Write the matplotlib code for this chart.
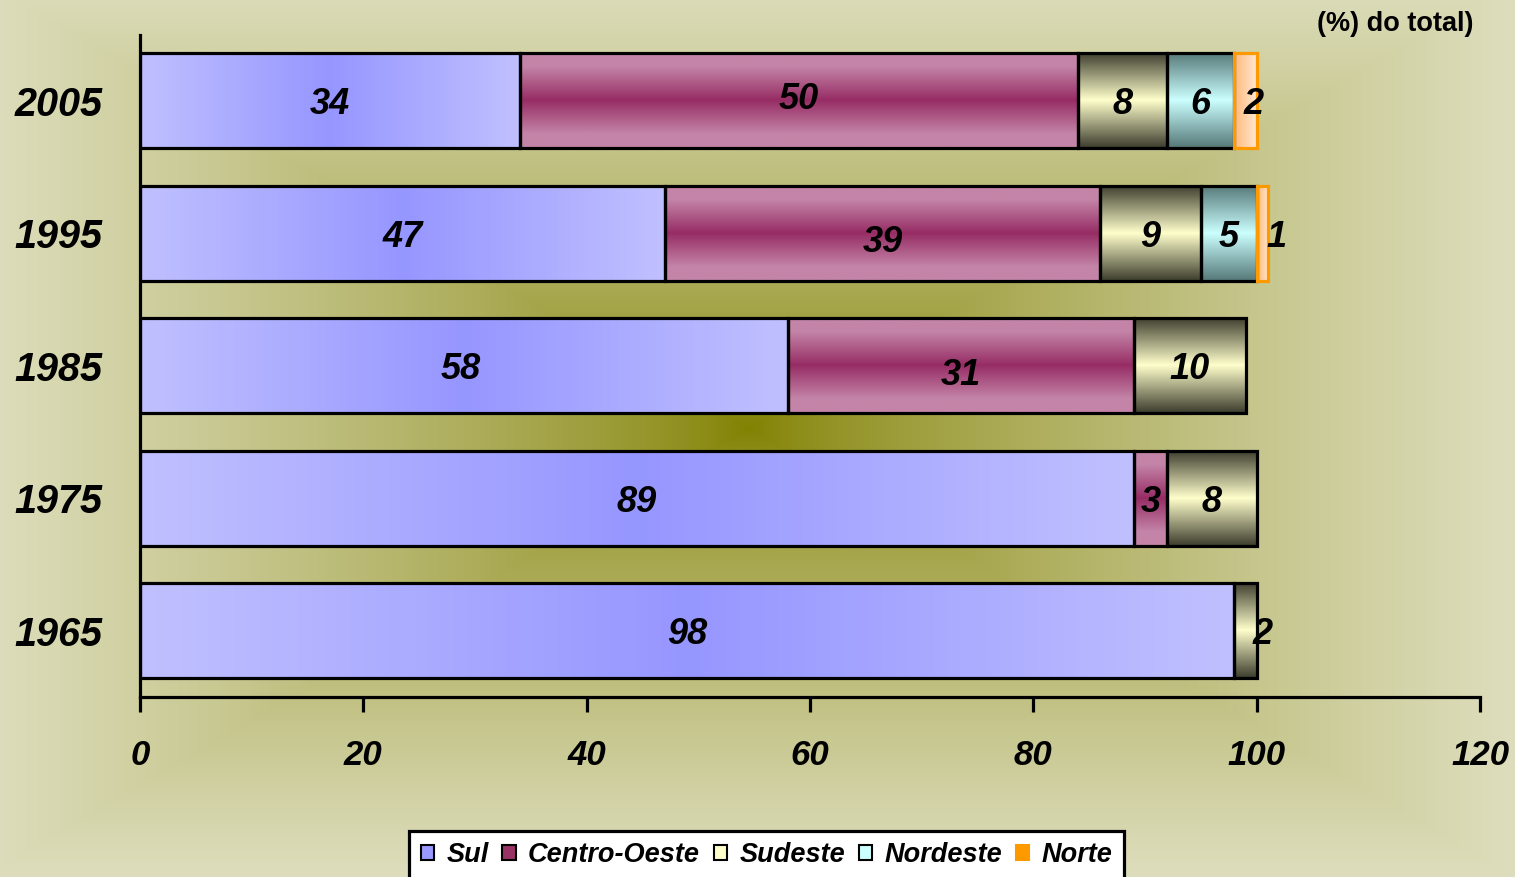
import matplotlib
matplotlib.use("Agg")
import matplotlib.pyplot as plt
from matplotlib.patches import Patch
import numpy as np

# data
years = ['1965', '1975', '1985', '1995', '2005']
sul = [98, 89, 58, 47, 34]
centro_oeste = [0, 3, 31, 39, 50]
sudeste = [2, 8, 10, 9, 8]
nordeste = [0, 0, 0, 5, 6]
norte = [0, 0, 0, 1, 2]

series_names = ['Sul', 'Centro-Oeste', 'Sudeste', 'Nordeste', 'Norte']
series_values = [sul, centro_oeste, sudeste, nordeste, norte]

# gradient styles: (direction, edge colour, centre colour, plateau)
grad_style = {
    'Sul': ('h', (192, 192, 255), (150, 150, 255), 1.0),
    'Centro-Oeste': ('v', (196, 132, 168), (150, 45, 100), 0.7),
    'Sudeste': ('v', (60, 60, 45), (255, 255, 204), 1.0),
    'Nordeste': ('v', (85, 120, 120), (204, 255, 255), 1.0),
    'Norte': ('h2', (255, 185, 120), (255, 232, 212), 1.0),
}
edge_col = {'Sul': 'black', 'Centro-Oeste': 'black', 'Sudeste': 'black',
            'Nordeste': 'black', 'Norte': '#FF9900'}
legend_col = {'Sul': '#9999FF', 'Centro-Oeste': '#993366', 'Sudeste': '#FFFFCC',
              'Nordeste': '#CCFFFF', 'Norte': '#FF9900'}
# small label nudges in points (dx, dy)
nudge = {('Centro-Oeste', '2005'): (0, 4), ('Centro-Oeste', '1995'): (0, -4),
         ('Centro-Oeste', '1985'): (0, -4), ('Norte', '2005'): (6, 0),
         ('Norte', '1995'): (10, 0), ('Sudeste', '1965'): (12, 0),
         ('Sul', '1985'): (-2, 0)}

FONT = 'Liberation Sans'

fig = plt.figure(figsize=(15.15, 8.77), dpi=100)
fig.patch.set_facecolor((220/255, 220/255, 186/255))

# rectangular "from centre" background gradient
bg = fig.add_axes([0, 0, 1, 1], zorder=-1)
H, W = 877, 1515
yy, xx = np.mgrid[0:H, 0:W]
r = np.maximum(np.abs(xx - 748) / 767.0, np.abs(yy - 428) / 449.0)
r = np.clip(r, 0, 1) ** 0.72
c0 = np.array([128, 128, 0]) / 255.0
c1 = np.array([222, 222, 190]) / 255.0
bgimg = c0[None, None, :] + (c1 - c0)[None, None, :] * r[:, :, None]
bg.imshow(bgimg, aspect='auto', interpolation='bilinear')
bg.axis('off')

ax = fig.add_axes([140/1515, 180/877, 1340/1515, 662.5/877])
ax.set_facecolor('none')

ypos = np.arange(len(years))
left = np.zeros(len(years))
for name, vals in zip(series_names, series_values):
    vals = np.array(vals, dtype=float)
    bars = ax.barh(ypos, vals, left=left, height=0.72, color='none',
                   edgecolor=edge_col[name], linewidth=2.3, zorder=3)
    d, ce, cc, plat = grad_style[name]
    ce = np.array(ce) / 255.0
    cc = np.array(cc) / 255.0
    for bar, v, yr in zip(bars, vals, years):
        if v <= 0:
            bar.set_visible(False)
            continue
        x0, y0 = bar.get_x(), bar.get_y()
        w, h = bar.get_width(), bar.get_height()
        n = 200
        if d == 'h2':
            t = np.linspace(0, 1, n)
            img = (ce[None, :] + (cc - ce)[None, :] * t[:, None])[None, :, :]
        else:
            t = np.clip(np.abs(np.linspace(-1, 1, n)) / plat, 0, 1)
            prof = cc[None, :] + (ce - cc)[None, :] * t[:, None]
            img = prof[:, None, :] if d == 'v' else prof[None, :, :]
        im = ax.imshow(img, extent=(x0, x0 + w, y0, y0 + h), aspect='auto',
                       interpolation='bilinear', zorder=2)
        im.set_clip_path(bar)
        dx, dy = nudge.get((name, yr), (0, 0))
        ax.annotate(f'{int(v)}', (x0 + w / 2, y0 + h / 2), xytext=(dx, dy),
                    textcoords='offset points', ha='center', va='center_baseline',
                    fontsize=26, fontweight='bold', fontstyle='italic',
                    family=FONT, zorder=5)
    left = left + vals

ax.set_xlim(0, 120)
ax.set_ylim(-0.5, len(years) - 0.5)
ax.set_xticks(np.arange(0, 121, 20))
ax.set_yticks(ypos)
ax.set_yticklabels(years)
for s in ['top', 'right']:
    ax.spines[s].set_visible(False)
for s in ['left', 'bottom']:
    ax.spines[s].set_linewidth(2.3)
ax.tick_params(axis='x', direction='out', length=11, width=2.3, pad=19)
ax.tick_params(axis='y', length=0, pad=27)
for lab in ax.get_xticklabels():
    lab.set_fontsize(25)
    lab.set_fontweight('bold')
    lab.set_fontstyle('italic')
    lab.set_family(FONT)
for lab in ax.get_yticklabels():
    lab.set_fontsize(28.5)
    lab.set_fontweight('bold')
    lab.set_fontstyle('italic')
    lab.set_family(FONT)

fig.text(0.9723, 0.9726, '(%) do total)', ha='right', va='center',
         fontsize=19.5, fontweight='bold', family=FONT)

handles = [Patch(facecolor=legend_col[n], edgecolor='black' if n != 'Norte' else '#FF9900',
                 linewidth=1.5, label=n) for n in series_names]
leg = fig.legend(handles=handles, loc='upper center', bbox_to_anchor=(0.506, 0.0525),
                 bbox_transform=fig.transFigure, ncol=5, frameon=True, fancybox=False,
                 borderaxespad=0, borderpad=0.42, handlelength=0.5, handleheight=0.5,
                 handletextpad=0.45, columnspacing=0.5,
                 prop={'family': FONT, 'weight': 'bold', 'style': 'italic', 'size': 19.5})
leg.get_frame().set_edgecolor('black')
leg.get_frame().set_linewidth(2.3)
leg.get_frame().set_facecolor('white')
leg.get_frame().set_alpha(1)

fig.savefig('out.png', dpi=100)
